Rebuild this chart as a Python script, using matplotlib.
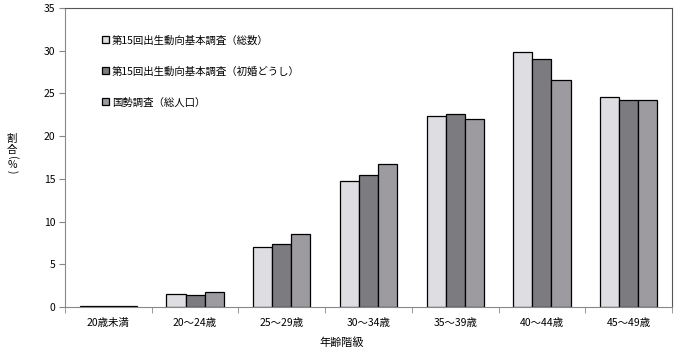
import matplotlib
matplotlib.use("Agg")
import matplotlib.pyplot as plt
import numpy as np

plt.rcParams['font.family'] = ['Noto Sans CJK JP', 'DejaVu Sans']

categories = ['20歳未満', '20～24歳', '25～29歳', '30～34歳', '35～39歳', '40～44歳', '45～49歳']
series_names = ['第15回出生動向基本調査（総数）', '第15回出生動向基本調査（初婚どうし）', '国勢調査（総人口）']
total = [0.1, 1.5, 7.0, 14.7, 22.3, 29.8, 24.6]
first_marriage = [0.1, 1.4, 7.4, 15.4, 22.6, 29.0, 24.2]
census = [0.1, 1.7, 8.6, 16.7, 22.0, 26.6, 24.2]
colors = ['#dddde2', '#7b7b80', '#9d9ba0']

fig = plt.figure(figsize=(6.78, 3.53), dpi=100)
ax = fig.add_axes([65 / 678, 1 - 307 / 353, (672 - 65) / 678, (307 - 8) / 353])

x = np.arange(len(categories))
w = 0.22
for i, (vals, name, c) in enumerate(zip([total, first_marriage, census], series_names, colors)):
    ax.bar(x + (i - 1) * w, vals, w, color=c, edgecolor='black', linewidth=0.9, label=name)

ax.set_xlim(-0.5, len(categories) - 0.5)
ax.set_ylim(0, 35)
ax.set_yticks(range(0, 36, 5))
ax.set_xticks(x)
ax.set_xticklabels(categories, fontsize=7.5)
ax.set_xticks(np.arange(-0.5, len(categories), 1), minor=True)
ax.tick_params(axis='x', which='major', length=0, pad=8)
ax.tick_params(axis='x', which='minor', length=4, color='#888888', direction='out')
ax.tick_params(axis='y', labelsize=7.5, length=4, color='#888888', pad=3)
for s in ['left', 'bottom']:
    ax.spines[s].set_color('#888888')
for s in ['top', 'right']:
    ax.spines[s].set_color('#555555')

ax.legend(loc='upper left', bbox_to_anchor=(0.045, 0.94), frameon=False, fontsize=7.5,
          handlelength=0.7, handleheight=0.7, handletextpad=0.3, labelspacing=2.0)

# vertical y label, stacked characters
fig.text(12 / 678, 1 - 139 / 353, '割', fontsize=7.5, ha='center', va='center')
fig.text(12 / 678, 1 - 150 / 353, '合', fontsize=7.5, ha='center', va='center')
fig.text(12 / 678, 1 - 158 / 353, '(', fontsize=7.5, ha='center', va='center', rotation=-90)
fig.text(12 / 678, 1 - 165 / 353, '%', fontsize=7.5, ha='center', va='center')
fig.text(12 / 678, 1 - 172 / 353, ')', fontsize=7.5, ha='center', va='center', rotation=-90)
fig.text(342 / 678, 1 - 343 / 353, '年齢階級', fontsize=8, ha='center', va='center')

fig.savefig('out.png', dpi=100)
